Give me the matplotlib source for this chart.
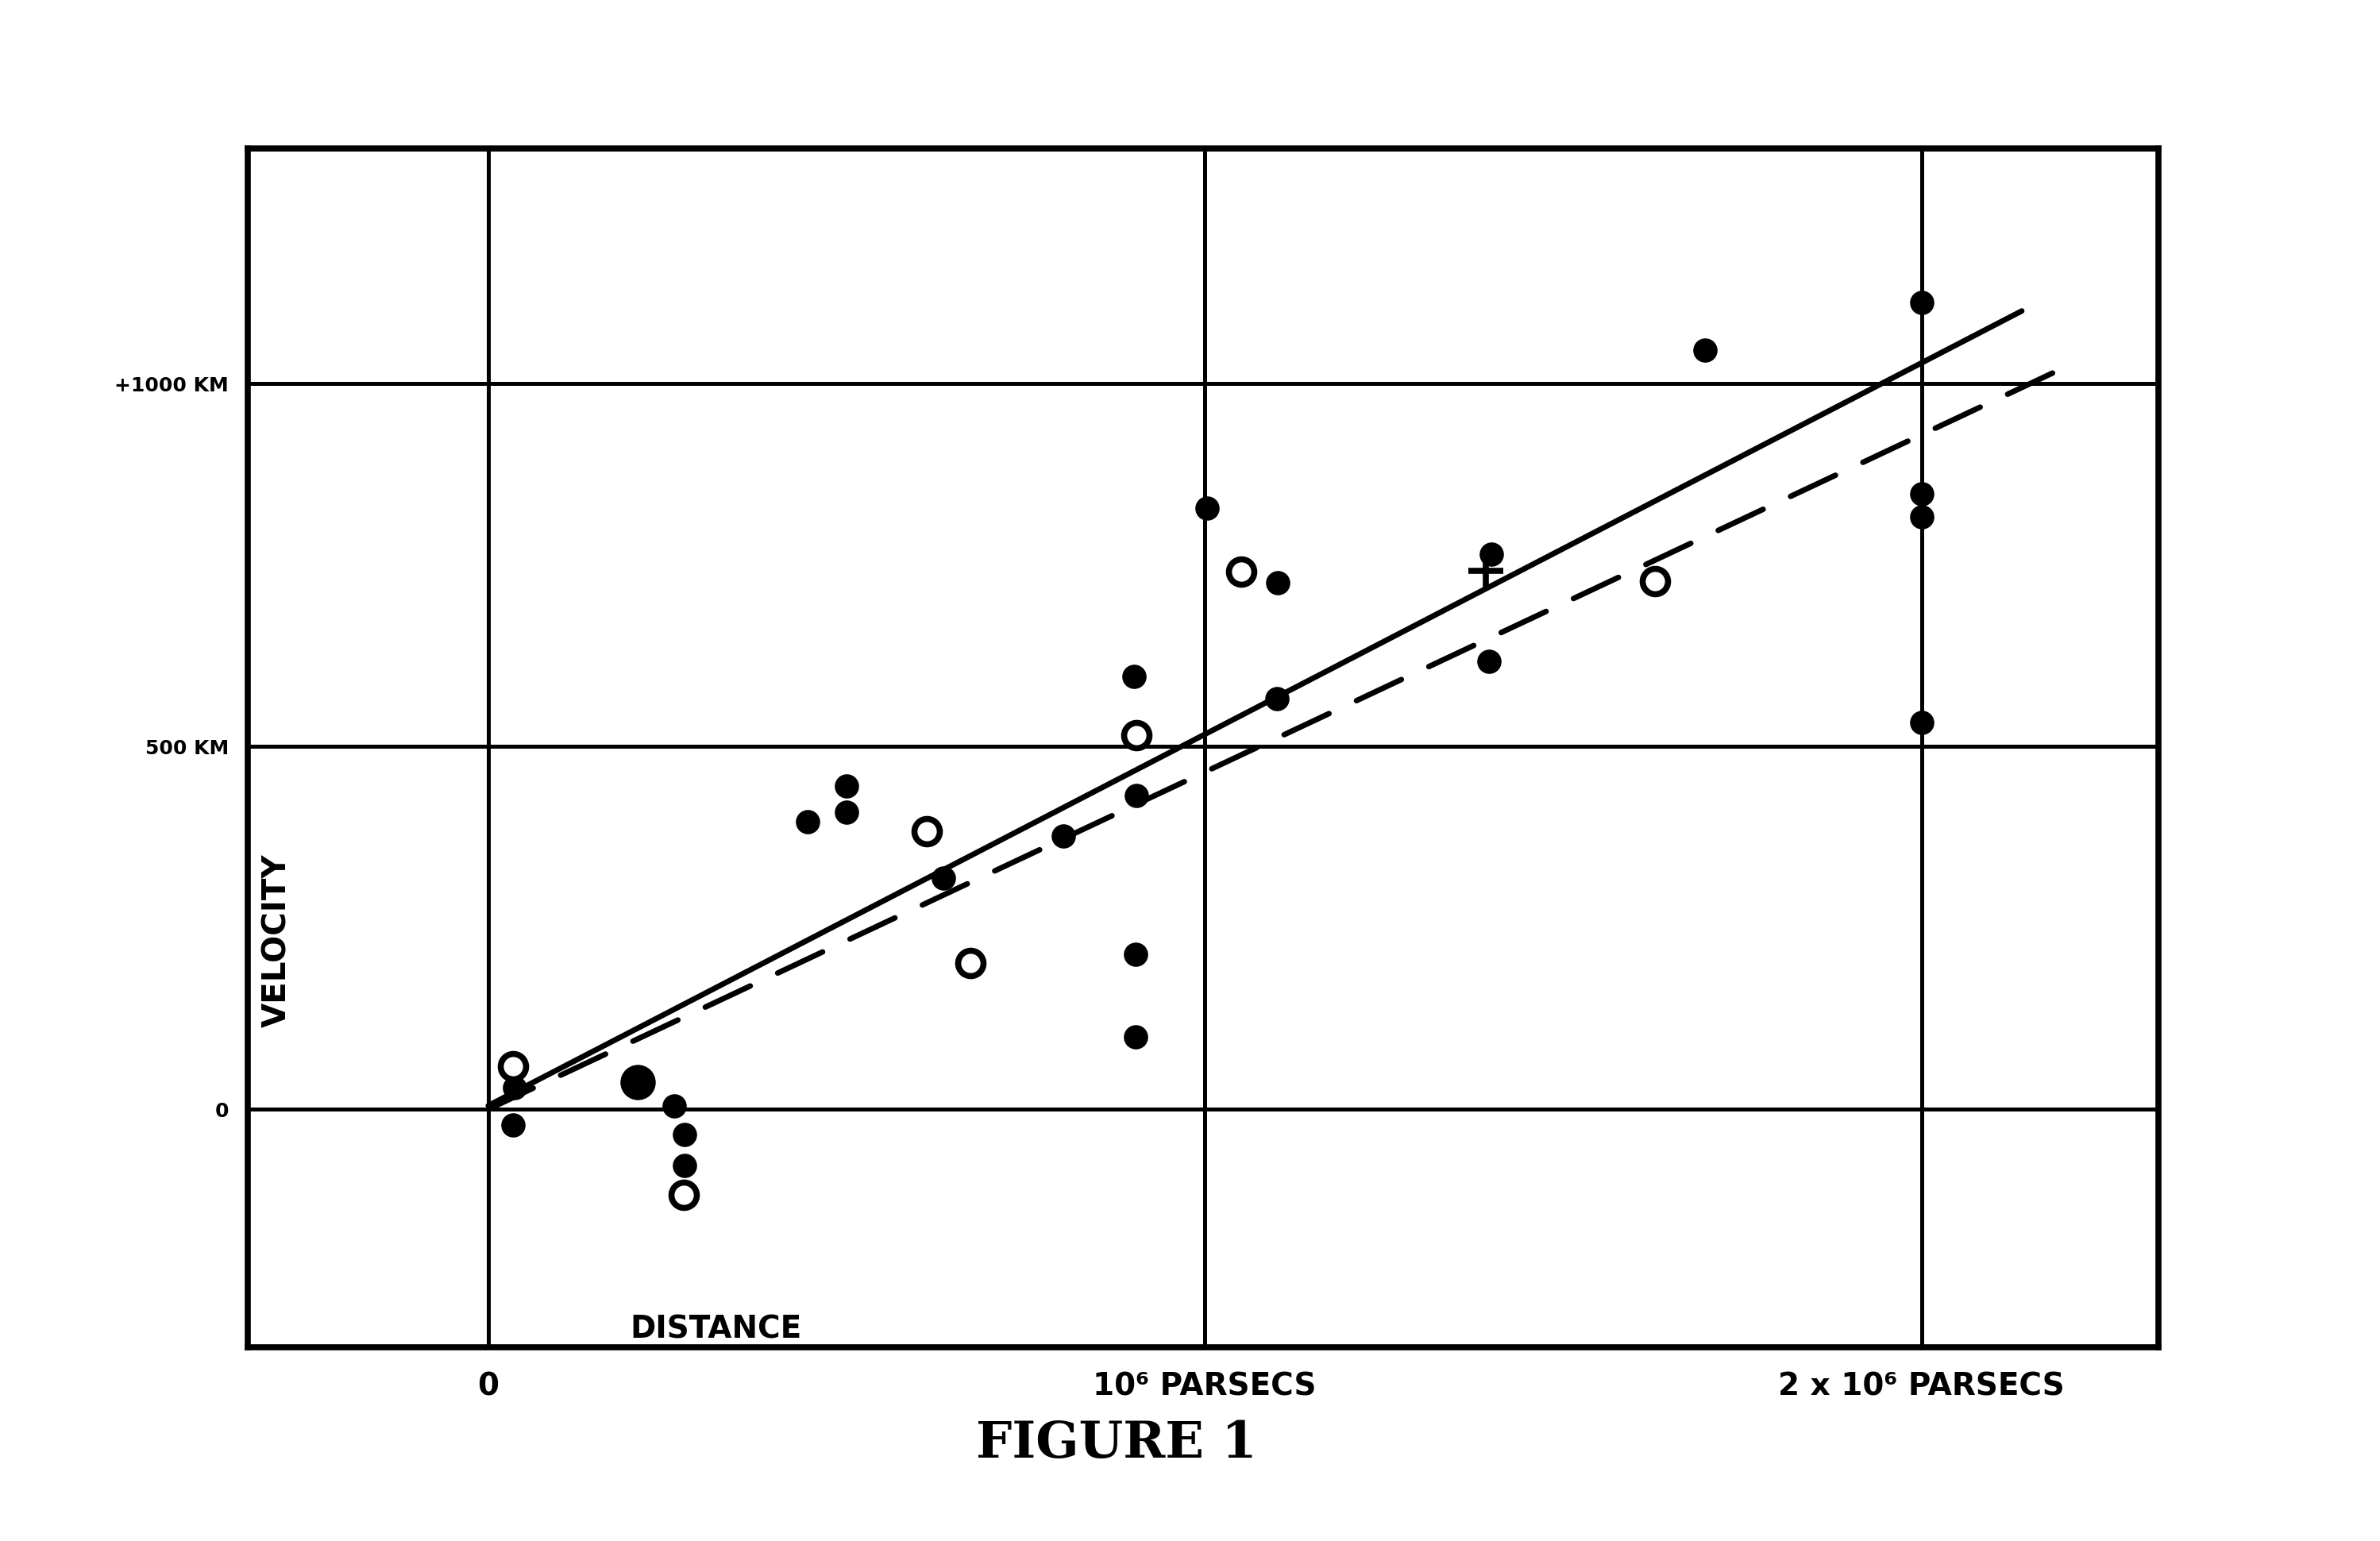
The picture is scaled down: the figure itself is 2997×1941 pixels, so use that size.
import matplotlib
matplotlib.use("Agg")
import matplotlib.pyplot as plt

# Hubble (1929), velocity-distance relation
# distance in units of 10^6 parsecs, velocity in km/s

# black discs: nebulae taken individually
disc_dist = [0.037, 0.034, 0.259, 0.274, 0.274, 0.446, 0.500, 0.500,
             0.635, 0.802, 0.904, 0.901, 0.903, 0.903, 1.003, 1.102,
             1.101, 1.400, 1.397, 1.698, 2.000, 2.000, 2.000, 2.000]
disc_vel = [30, -22, 5, -35, -77, 396, 445, 409,
            319, 376, 432, 596, 213, 100, 828, 726,
            566, 765, 617, 1046, 1112, 848, 816, 533]
big_disc_dist = [0.208]
big_disc_vel = [37]

# circles: nebulae combined into groups
circle_dist = [0.034, 0.273, 0.612, 0.673, 0.904, 1.051, 1.628]
circle_vel = [59, -118, 383, 201, 516, 741, 728]

# cross: mean of the 22 nebulae without individual distances
cross_dist = [1.392]
cross_vel = [742]

# fitted relations (end points)
solid_dist = [0.0, 2.14]
solid_vel = [5, 1100]
dashed_dist = [0.0, 2.21]
dashed_vel = [0, 1027]

x_ticks = [0, 1, 2]
x_labels = ["0", "10\u2076 PARSECS", "2 x 10\u2076 PARSECS"]
y_ticks = [0, 500, 1000]
y_labels = ["0", "500 KM", "+1000 KM"]

plt.rcParams['font.family'] = ['DejaVu Sans']

fig = plt.figure(figsize=(29.97, 19.41), dpi=100)
ax = fig.add_axes([0.104, 0.1257, 0.803, 0.778])

# heavy ruled grid
for xv in x_ticks:
    ax.axvline(xv, color='black', lw=3.6, zorder=1)
for yv in y_ticks:
    ax.axhline(yv, color='black', lw=3.6, zorder=1)

ax.plot(solid_dist, solid_vel, color='black', lw=5, solid_capstyle='round', zorder=2)
ax.plot(dashed_dist, dashed_vel, color='black', lw=5, dashes=(9, 5.5),
        dash_capstyle='round', zorder=2)

ax.plot(disc_dist, disc_vel, 'o', color='black', ms=21, ls='none', zorder=3)
ax.plot(big_disc_dist, big_disc_vel, 'o', color='black', ms=31, ls='none', zorder=3)
ax.plot(circle_dist, circle_vel, 'o', mfc='white', mec='black', mew=5.5, ms=23,
        ls='none', zorder=4)
ax.plot(cross_dist, cross_vel, '+', color='black', mew=5.5, ms=32, ls='none', zorder=4)

ax.set_xlim(-0.336, 2.331)
ax.set_ylim(-328, 1324)

ax.set_xticks(x_ticks)
ax.set_xticklabels(x_labels, fontsize=28, fontweight='bold')
ax.set_yticks(y_ticks)
ax.set_yticklabels(y_labels, fontsize=18, fontweight='bold')
ax.tick_params(axis='both', length=0)
ax.tick_params(axis='x', pad=22)
ax.tick_params(axis='y', pad=17)

for sp in ax.spines.values():
    sp.set_linewidth(5.5)

ax.text(-0.294, 232, "VELOCITY", rotation=90, ha='center', va='center',
        fontsize=29, fontweight='bold')
ax.text(0.318, -303, "DISTANCE", ha='center', va='center',
        fontsize=28, fontweight='bold')

fig.text(0.469, 0.063, "FIGURE 1", ha='center', va='center',
         fontsize=46, fontweight='bold', family='DejaVu Serif')

fig.savefig('out.png', dpi=100, facecolor='white')
